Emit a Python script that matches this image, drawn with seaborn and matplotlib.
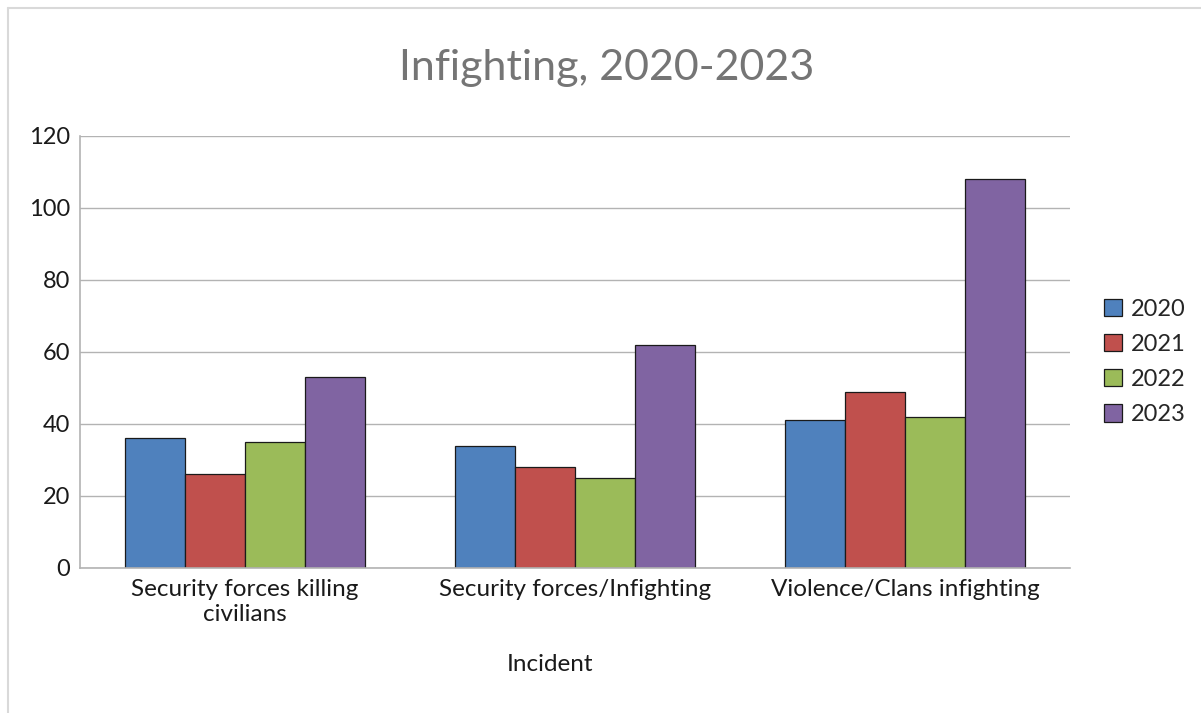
import pandas as pd
import matplotlib.pyplot as plt
import seaborn as sns
from matplotlib.lines import Line2D

incidents = ['Security forces killing\ncivilians', 'Security forces/Infighting', 'Violence/Clans infighting']
years = ['2020', '2021', '2022', '2023']
v2020 = [36, 34, 41]
v2021 = [26, 28, 49]
v2022 = [35, 25, 42]
v2023 = [53, 62, 108]
colors = ['#4F81BD', '#C0504D', '#9BBB59', '#8064A2']

rows = []
for year, vals in zip(years, [v2020, v2021, v2022, v2023]):
    for inc, v in zip(incidents, vals):
        rows.append({'Incident': inc, 'Year': year, 'Count': v})
df = pd.DataFrame(rows)

sns.set_style('white')
plt.rcParams['font.family'] = ['Lato', 'DejaVu Sans']

fig = plt.figure(figsize=(12.01, 7.13), dpi=100)
ax = fig.add_axes([80/1201, 1 - 568/713, 990/1201, 432/713])

sns.barplot(data=df, x='Incident', y='Count', hue='Year', palette=colors,
            width=0.727, gap=0, edgecolor='#1a1a1a', linewidth=0.9,
            saturation=1, ax=ax)

ax.set_ylim(0, 120)
ax.set_yticks(range(0, 121, 20))
ax.set_xlim(-0.5, 2.5)
ax.yaxis.grid(True, color='#b3b3b3', linewidth=1)
ax.set_axisbelow(True)
for s in ['top', 'right']:
    ax.spines[s].set_visible(False)
for s in ['left', 'bottom']:
    ax.spines[s].set_color('#b3b3b3')
    ax.spines[s].set_linewidth(1.2)
ax.tick_params(axis='y', length=0, labelsize=17, colors='#1a1a1a', pad=7)
ax.tick_params(axis='x', length=0, labelsize=17.5, colors='#1a1a1a', pad=8)
for lab in ax.get_xticklabels():
    lab.set_linespacing(1.25)
ax.set_ylabel('')
ax.set_xlabel('Incident', fontsize=17.5, color='#1a1a1a', labelpad=22)
ax.xaxis.set_label_coords((550 - 80) / 990, -0.199)

fig.text(607/1201, 1 - 68/713, 'Infighting, 2020-2023', ha='center', va='center',
         fontsize=31, color='#757575')

leg = ax.legend(title=None, frameon=False, fontsize=17, loc='center left',
                bbox_to_anchor=(1.013, 0.477), handlelength=0.75, handleheight=0.75,
                labelspacing=0.6, handletextpad=0.4)

# outer chart border (top and left)
fig.add_artist(Line2D([8/1201, 1], [1 - 8/713, 1 - 8/713], transform=fig.transFigure,
                      color='#d9d9d9', linewidth=1.5))
fig.add_artist(Line2D([8/1201, 8/1201], [0, 1 - 8/713], transform=fig.transFigure,
                      color='#d9d9d9', linewidth=1.5))

fig.savefig('out.png', dpi=100)
